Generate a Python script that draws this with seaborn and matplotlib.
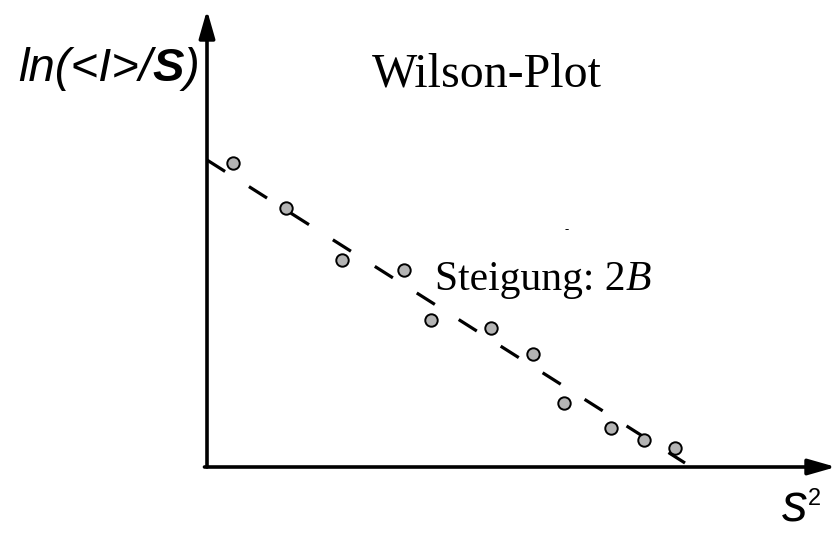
import matplotlib
matplotlib.use("Agg")
import matplotlib.pyplot as plt
import seaborn as sns
import pandas as pd

# Wilson plot: ln(<I>/S) against s^2 (arbitrary units)
s2 = [0.26, 0.79, 1.35, 1.97, 2.24, 2.84, 3.26, 3.57, 4.04, 4.37, 4.68]
ln_ratio = [3.04, 2.59, 2.07, 1.97, 1.47, 1.39, 1.13, 0.64, 0.39, 0.27, 0.19]

# fitted straight line (slope -> 2B)
fit_x = [0.0, 4.78]
fit_y = [3.07, 0.04]

sns.set_theme(style="white")
plt.rcParams["font.family"] = ["Liberation Sans", "DejaVu Sans"]
plt.rcParams["text.color"] = "black"

W, H = 836, 533
fig = plt.figure(figsize=(W / 100, H / 100), dpi=100)
ax = fig.add_axes([207 / W, 66 / H, 629 / W, 457 / H])
ax.set_xlim(0, 6.29)
ax.set_ylim(0, 4.57)
ax.set_axis_off()

pts = pd.DataFrame({"s2": s2, "lnr": ln_ratio})
fit = pd.DataFrame({"s2": fit_x, "lnr": fit_y})

sns.lineplot(data=fit, x="s2", y="lnr", ax=ax, color="black", linewidth=2.3,
             zorder=2)
ax.lines[-1].set_dashes([6.7, 8.85])
ax.lines[-1].set_dash_capstyle("butt")

sns.scatterplot(data=pts, x="s2", y="lnr", ax=ax, s=80, color="#b4b4b4",
                edgecolor="black", linewidth=1.4, zorder=3)

# axes drawn as arrows
arrow = dict(arrowstyle="-|>,head_length=1.4,head_width=0.4", color="black",
             lw=2.6, shrinkA=0, shrinkB=0)
ax.annotate("", xy=(0, 1.0), xycoords="axes fraction", xytext=(0, 0),
            textcoords="axes fraction", arrowprops=arrow, annotation_clip=False)
ax.annotate("", xy=(1.0, 0), xycoords="axes fraction", xytext=(-0.004, 0),
            textcoords="axes fraction", arrowprops=arrow, annotation_clip=False)

renderer = fig.canvas.get_renderer()


def run_of_text(x_px, base_px, pieces):
    """Place consecutive text pieces on one baseline, starting at pixel x."""
    x = x_px
    for txt, kw in pieces:
        t = fig.text(x / W, 1 - base_px / H, txt, ha="left", va="baseline", **kw)
        x += t.get_window_extent(renderer).width
    return x


# y-axis label
it_sans = dict(family="Liberation Sans", style="italic", fontsize=34)
run_of_text(18, 81, [("ln(<I>/", it_sans),
                     ("S", dict(it_sans, weight="bold")),
                     (")", it_sans)])

# title and slope annotation
fig.text(372 / W, 1 - 87 / H, "Wilson-Plot", ha="left", va="baseline",
         fontsize=34.5, family="Liberation Serif")
serif = dict(family="Liberation Serif", fontsize=30)
run_of_text(435, 290, [("Steigung: 2", serif),
                       ("B", dict(serif, style="italic"))])
fig.text(567 / W, 1 - 233 / H, "-", ha="center", va="baseline", fontsize=9,
         family="Liberation Serif")

# x-axis label s^2
fig.text(782 / W, 1 - 522 / H, "s", ha="left", va="baseline",
         family="Liberation Sans", style="italic", fontsize=37)
fig.text(808 / W, 1 - 505 / H, "2", ha="left", va="baseline",
         family="Liberation Sans", fontsize=17)

fig.savefig("out.png", dpi=100)
